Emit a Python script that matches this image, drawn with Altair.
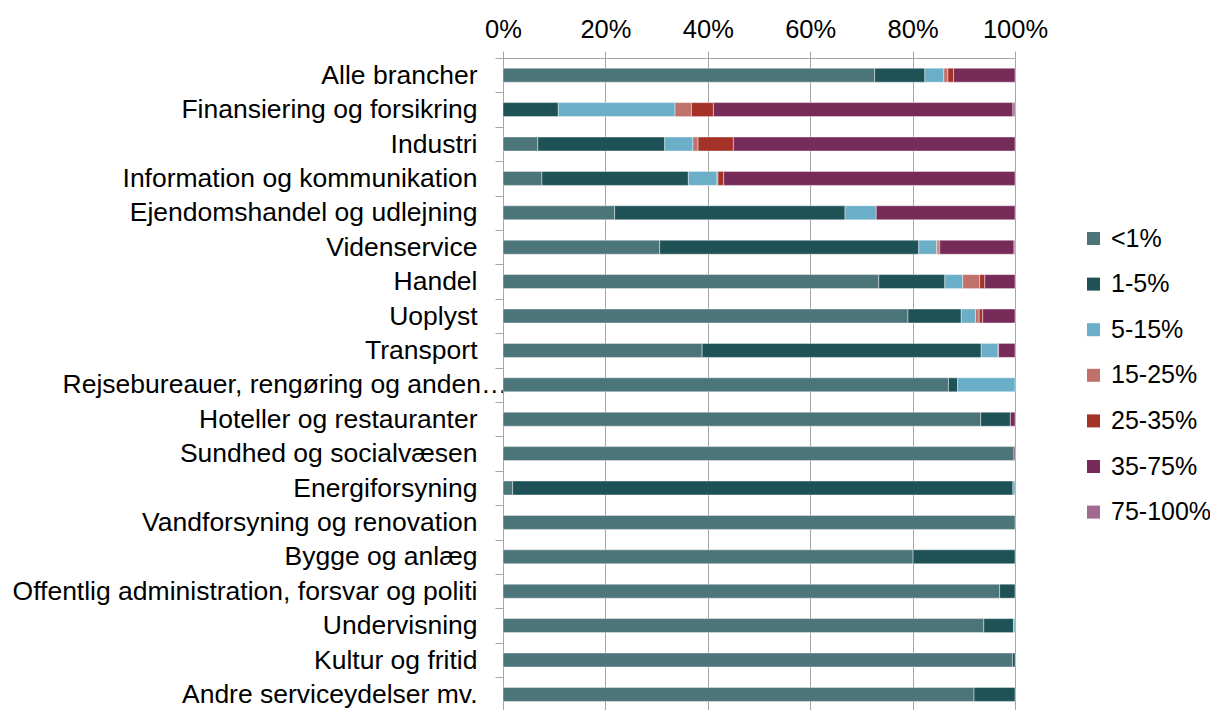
import altair as alt
import pandas as pd

categories = [
    "Alle brancher",
    "Finansiering og forsikring",
    "Industri",
    "Information og kommunikation",
    "Ejendomshandel og udlejning",
    "Videnservice",
    "Handel",
    "Uoplyst",
    "Transport",
    "Rejsebureauer, rengøring og anden…",
    "Hoteller og restauranter",
    "Sundhed og socialvæsen",
    "Energiforsyning",
    "Vandforsyning og renovation",
    "Bygge og anlæg",
    "Offentlig administration, forsvar og politi",
    "Undervisning",
    "Kultur og fritid",
    "Andre serviceydelser  mv.",
]

series = ["<1%", "1-5%", "5-15%", "15-25%", "25-35%", "35-75%", "75-100%"]
colors = ["#4B7578", "#1F5257", "#6AAEC7", "#C0716B", "#A53228", "#762B58", "#A06B8E"]

lt1 = [72.6, 0.0, 6.8, 7.6, 21.8, 30.6, 73.4, 79.1, 38.9, 87.0, 93.3, 99.8, 1.9, 100.0, 80.1, 97.0, 93.9, 99.5, 92.0]
p1_5 = [9.8, 10.8, 24.8, 28.6, 45.0, 50.6, 12.9, 10.4, 54.5, 1.8, 5.8, 0.0, 97.7, 0.0, 19.9, 3.0, 5.8, 0.5, 8.0]
p5_15 = [3.7, 22.8, 5.5, 5.6, 6.1, 3.5, 3.5, 2.8, 3.3, 11.2, 0.0, 0.0, 0.4, 0.0, 0.0, 0.0, 0.3, 0.0, 0.0]
p15_25 = [0.8, 3.2, 1.0, 0.2, 0.0, 0.3, 3.3, 0.7, 0.1, 0.0, 0.0, 0.0, 0.0, 0.0, 0.0, 0.0, 0.0, 0.0, 0.0]
p25_35 = [1.1, 4.3, 6.9, 1.1, 0.0, 0.3, 1.0, 0.7, 0.0, 0.0, 0.0, 0.0, 0.0, 0.0, 0.0, 0.0, 0.0, 0.0, 0.0]
p35_75 = [12.0, 58.5, 55.0, 56.9, 27.1, 14.5, 5.9, 6.3, 3.2, 0.0, 0.9, 0.2, 0.0, 0.0, 0.0, 0.0, 0.0, 0.0, 0.0]
p75_100 = [0.0, 0.4, 0.0, 0.0, 0.0, 0.2, 0.0, 0.0, 0.0, 0.0, 0.0, 0.0, 0.0, 0.0, 0.0, 0.0, 0.0, 0.0, 0.0]

all_series = [lt1, p1_5, p5_15, p15_25, p25_35, p35_75, p75_100]

rows = []
for si, (name, vals) in enumerate(zip(series, all_series)):
    for ci, cat in enumerate(categories):
        if vals[ci] > 0:
            rows.append({"Branche": cat, "Gruppe": name, "order": si, "value": vals[ci]})
df = pd.DataFrame(rows)

FONT = "Liberation Sans"
long_label = "Rejsebureauer, rengøring og anden…"

chart = (
    alt.Chart(df)
    .mark_bar(size=14, stroke="white", strokeWidth=0.7, strokeOpacity=0.6)
    .encode(
        x=alt.X(
            "value:Q",
            stack="zero",
            scale=alt.Scale(domain=[0, 100], nice=False),
            axis=alt.Axis(
                orient="top",
                values=[0, 20, 40, 60, 80, 100],
                labelExpr="datum.value + '%'",
                labelFlush=False,
                title=None,
                labelFont=FONT,
                labelFontSize=25.5,
                labelColor="#000000",
                labelPadding=9,
                tickSize=7,
                tickColor="#A6A6A6",
                domainColor="#A6A6A6",
                grid=True,
                gridColor="#A6A6A6",
                gridWidth=1,
            ),
        ),
        y=alt.Y(
            "Branche:N",
            sort=categories,
            scale=alt.Scale(range=[0, 653.6], paddingInner=0, paddingOuter=0),
            axis=alt.Axis(
                title=None,
                labelFont=FONT,
                labelFontSize=26.5,
                labelColor="#000000",
                labelLimit=1000,
                labelPadding=alt.condition(
                    f"datum.value == '{long_label}'", alt.value(-12), alt.value(18)
                ),
                tickBand="extent",
                tickSize=8,
                tickColor="#A6A6A6",
                domainColor="#A6A6A6",
                grid=False,
            ),
        ),
        color=alt.Color(
            "Gruppe:N",
            sort=series,
            scale=alt.Scale(domain=series, range=colors),
            legend=alt.Legend(
                title=None,
                orient="none",
                legendX=578,
                legendY=168,
                symbolType="square",
                symbolSize=169,
                symbolStrokeWidth=0,
                symbolOpacity=1,
                labelFont=FONT,
                labelFontSize=25,
                labelColor="#000000",
                labelOffset=5,
                rowPadding=19.6,
                padding=0,
            ),
        ),
        order=alt.Order("order:Q"),
    )
    .properties(
        width=512,
        height=652,
        autosize=alt.AutoSizeParams(type="none"),
        padding={"left": 495, "top": 50, "right": 195, "bottom": 0},
    )
    .configure_view(stroke=None)
    .configure(background="white")
)

chart.save("out.html", embed_options={"renderer": "svg", "actions": False})
